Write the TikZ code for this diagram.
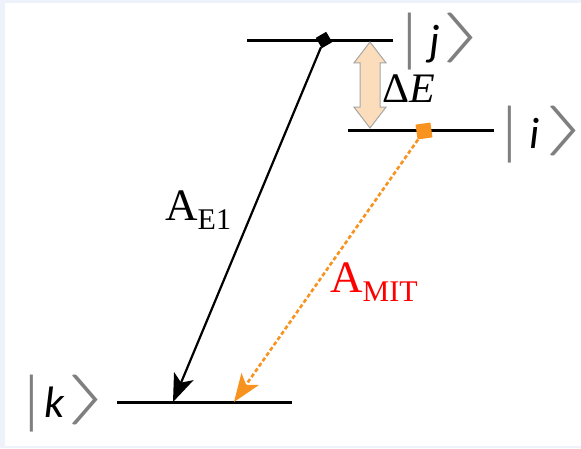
\documentclass[tikz,border=0pt]{standalone}
\usepackage{fontspec}
\usepackage{graphicx}
\setmainfont{Liberation Serif}
\newfontfamily\ketfont{Carlito}
\usetikzlibrary{arrows.meta,shapes.arrows,positioning}
\definecolor{ketgray}{HTML}{7F7F7F}
\definecolor{mitorange}{HTML}{F7931E}
\definecolor{gapfill}{HTML}{FBDDBC}
\definecolor{gapline}{HTML}{A6A6A6}
\definecolor{framebg}{HTML}{EEF3FB}
\newcommand{\ketbar}{\textcolor{ketgray}{\raisebox{-4.6pt}{\scalebox{0.7}[1]{\resizebox*{!}{57pt}{|}}}}}
\newcommand{\ketclose}{\textcolor{ketgray}{\raisebox{4.5pt}{\resizebox*{44pt}{50pt}{$\rangle$}}}}
\newcommand{\lvlsub}[1]{\raisebox{-9pt}{\fontsize{30}{30}\selectfont #1}}

\begin{document}
\begin{tikzpicture}[x=1pt, y=-1pt,
  level/.style={line width=3pt},
  lbl/.style={inner sep=0pt, anchor=base west, font=\fontsize{45}{50}\selectfont},
  ket/.style={inner sep=0pt, anchor=base west, font=\ketfont\fontsize{44}{48}\selectfont},
  jmark/.style={fill=black, minimum size=12pt, inner sep=0pt, rotate=30},
  imark/.style={fill=mitorange, minimum size=15pt, inner sep=0pt, rotate=8},
  e1arrow/.style={line width=2.2pt, -{Stealth[length=28pt,width=21pt,inset=7pt]}},
  mitarrow/.style={mitorange, line width=2.6pt, dash pattern=on 4pt off 2.5pt,
    -{Stealth[length=28pt,width=21pt,inset=7pt]}},
  gaparrow/.style={double arrow, draw=gapline, fill=gapfill, line width=1pt,
    rotate=90, minimum height=86pt, inner xsep=0pt, inner ysep=9.5pt,
    double arrow head extend=6pt, double arrow tip angle=75}]
  \fill[framebg] (0,0) rectangle (581,448);
  \fill[white] (5,3) rectangle (581,446);
  \useasboundingbox (0,0) rectangle (581,448);
  % levels
  \foreach \xa/\xb/\y in {247/393/40, 348/494/130, 117/292/402}
    \draw[level] (\xa,\y) -- (\xb,\y);
  \node[ket] (ketj) at (399,55) {\ketbar\hspace{10pt}\textit{j}\hspace{1pt}\ketclose};
  \node[ket] (keti) at (499,148) {\ketbar\hspace{10pt}\textit{i}\hspace{4pt}\ketclose};
  \node[ket] (ketk) at (21,417) {\ketbar\hspace{3pt}\textit{k}\hspace{1pt}\ketclose};
  % energy gap
  \node[gaparrow] (gap) at (370,85) {};
  \node[lbl, font=\fontsize{42}{46}\selectfont] (gaplbl) at (382,102) {Δ\textit{E}};
  % transitions
  \coordinate (k1) at (173,402);
  \coordinate (k2) at (234,402);
  \node[jmark] (sj) at (324,40) {};
  \node[imark] (si) at (424,131) {};
  \draw[e1arrow] (sj) -- (k1);
  \draw[mitarrow] (si) -- (k2);
  \node[lbl] (ae1) at (165,220) {A\lvlsub{E1}};
  \node[lbl, red] (amit) at (330,292) {A\lvlsub{MIT}};
\end{tikzpicture}
\end{document}
